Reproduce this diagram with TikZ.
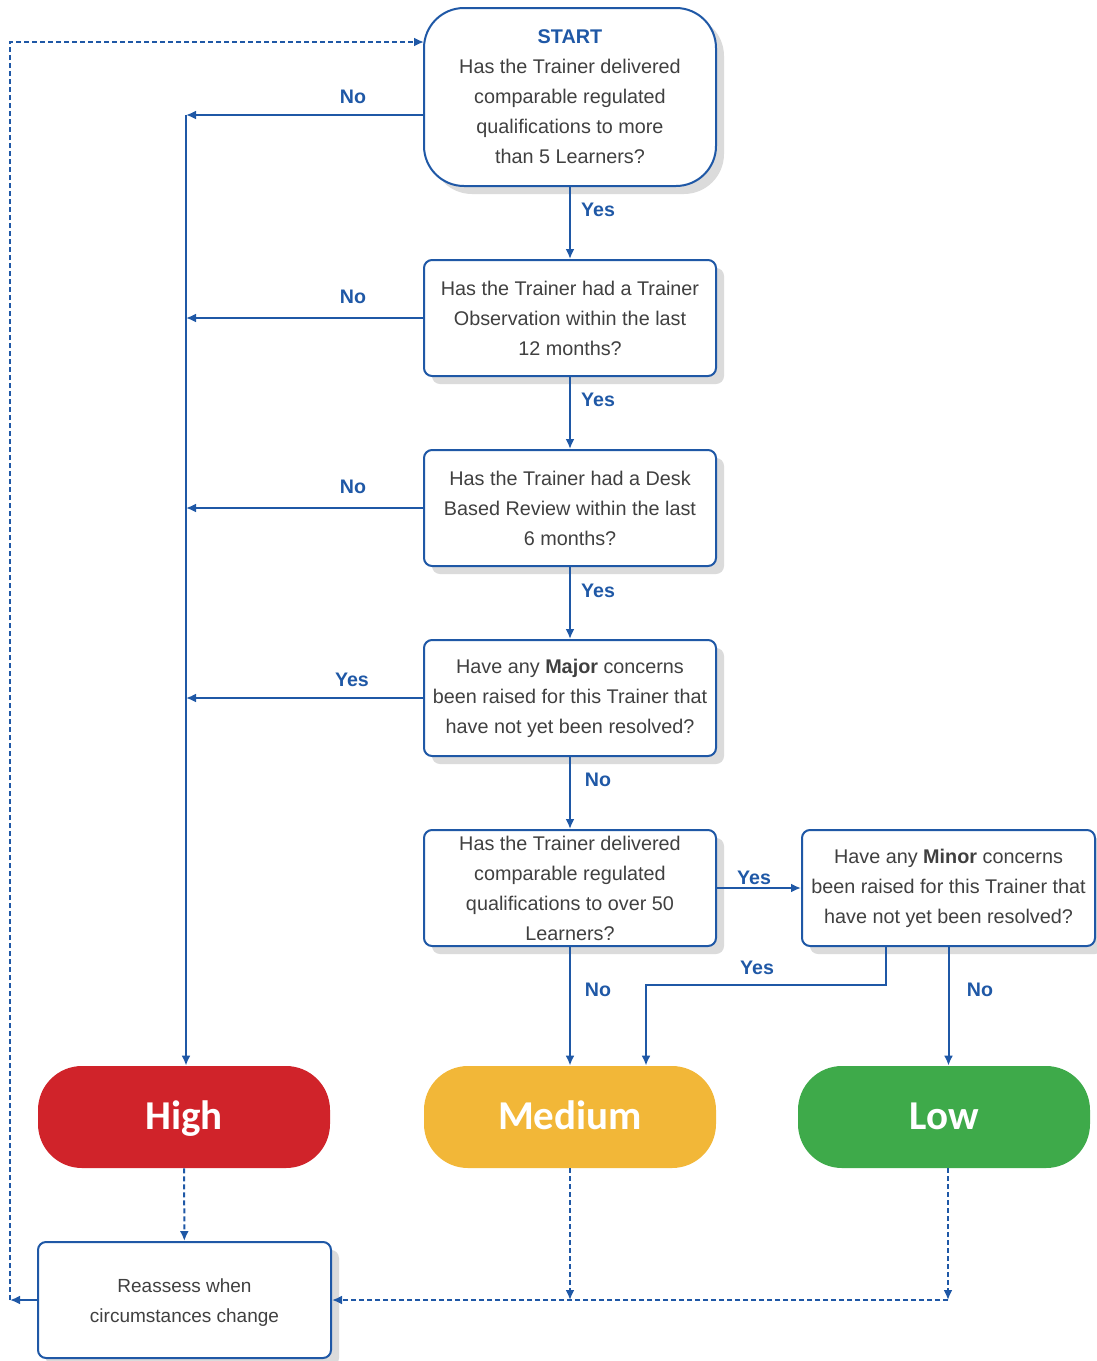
\documentclass[tikz,border=0pt]{standalone}
\usepackage{fontspec}
\setmainfont{Liberation Sans}
\newfontfamily\riskfont{Carlito}
\usetikzlibrary{arrows.meta,shadows,positioning}
\definecolor{fblue}{RGB}{31,88,166}
\definecolor{ftext}{RGB}{64,64,64}
\definecolor{fred}{RGB}{208,35,42}
\definecolor{fyellow}{RGB}{242,183,56}
\definecolor{fgreen}{RGB}{62,170,74}
\tikzset{
  shad/.style={drop shadow={shadow xshift=4pt, shadow yshift=-4pt, fill=black!14, opacity=1}},
  qbox/.style={draw=fblue, line width=1pt, fill=white, rounded corners=4pt,
    minimum width=146pt, minimum height=58pt, inner sep=0pt, align=center,
    text=ftext, font=\fontsize{9.9}{15}\selectfont, shad},
  risk/.style={rounded corners=22pt, minimum width=146pt, minimum height=51pt,
    inner sep=0pt, text height=16pt, text depth=3.4pt, text=white,
    font=\riskfont\bfseries\fontsize{20.5}{24}\selectfont},
  arr/.style={draw=fblue, line width=1pt, -{Latex[length=5pt,width=4.5pt]}},
  darr/.style={arr, dash pattern=on 2.5pt off 1.5pt},
  lbl/.style={text=fblue, font=\bfseries\fontsize{9.8}{11}\selectfont, inner sep=0pt}
}
\begin{document}
\begin{tikzpicture}[x=0.5pt,y=-0.5pt]
\useasboundingbox (0,0) rectangle (1097,1361);
% decision boxes
\node[qbox, rounded corners=20pt, minimum height=89pt] (q1) at (570,97)
  {{\color{fblue}\bfseries START}\\Has the Trainer delivered\\comparable regulated\\qualifications to more\\than 5 Learners?};
\node[qbox] (q2) at (570,318) {Has the Trainer had a Trainer\\Observation within the last\\12 months?};
\node[qbox] (q3) at (570,508) {Has the Trainer had a Desk\\Based Review within the last\\6 months?};
\node[qbox] (q4) at (570,698) {Have any \textbf{Major} concerns\\been raised for this Trainer that\\have not yet been resolved?};
\node[qbox] (q5) at (570,888) {Has the Trainer delivered\\comparable regulated\\qualifications to over 50\\Learners?};
\node[qbox, minimum width=146.5pt] (q6) at (948.5,888) {Have any \textbf{Minor} concerns\\been raised for this Trainer that\\have not yet been resolved?};
% risk boxes
\node[risk, fill=fred] (high) at (184,1117) {High};
\node[risk, fill=fyellow] (med) at (570,1117) {Medium};
\node[risk, fill=fgreen] (low) at (944,1117) {Low};
% reassess
\node[qbox, minimum width=146.5pt, font=\fontsize{9.5}{15}\selectfont] (re) at (184.5,1300) {\rule{0pt}{9pt}Reassess when\\circumstances change};
% coordinates
\coordinate (t1) at (186,115);
\coordinate (jn) at (646,985);
\coordinate (m6) at (886,946);
\coordinate (bl) at (10,1300);
\coordinate (tl) at (10,42);
\coordinate (sa) at (424,42);
\coordinate (mb) at (570,1300);
\coordinate (lb) at (948,1300);
\coordinate (lt) at (948,1168);
% No branches to High
\draw[arr] ([yshift=-9pt]q1.west) -- (t1);
\draw[arr] (q2.west) -- (q2.west -| t1);
\draw[arr] (q3.west) -- (q3.west -| t1);
\draw[arr] (q4.west) -- (q4.west -| t1);
\draw[arr] (t1) -- (t1 |- high.north);
% main chain
\draw[arr] (q1) -- (q2);
\draw[arr] (q2) -- (q3);
\draw[arr] (q3) -- (q4);
\draw[arr] (q4) -- (q5);
\draw[arr] (q5) -- (q6);
\draw[arr] (q5) -- (med);
\draw[arr] (m6) |- (jn) -- (jn |- med.north);
\draw[arr] (q6.south) -- (q6.south |- low.north);
% dashed return
\draw[darr] (high) -- (re);
\draw[darr] (med) -- (mb);
\draw[darr] (lt) -- (lb);
\draw[darr] (lb) -- (re.east);
\draw[arr] (re.west) -- (bl);
\draw[darr] (bl) -- (tl) -- (sa);
% labels
\node[lbl] (l1) at (353,97) {No};
\node[lbl] (l2) at (353,297) {No};
\node[lbl] (l3) at (353,487) {No};
\node[lbl] (l4) at (352,680) {Yes};
\node[lbl] (l5) at (598,210) {Yes};
\node[lbl] (l6) at (598,400) {Yes};
\node[lbl] (l7) at (598,591) {Yes};
\node[lbl] (l8) at (598,780) {No};
\node[lbl] (l9) at (754,878) {Yes};
\node[lbl] (l10) at (598,990) {No};
\node[lbl] (l11) at (757,968) {Yes};
\node[lbl] (l12) at (980,990) {No};
\end{tikzpicture}
\end{document}
